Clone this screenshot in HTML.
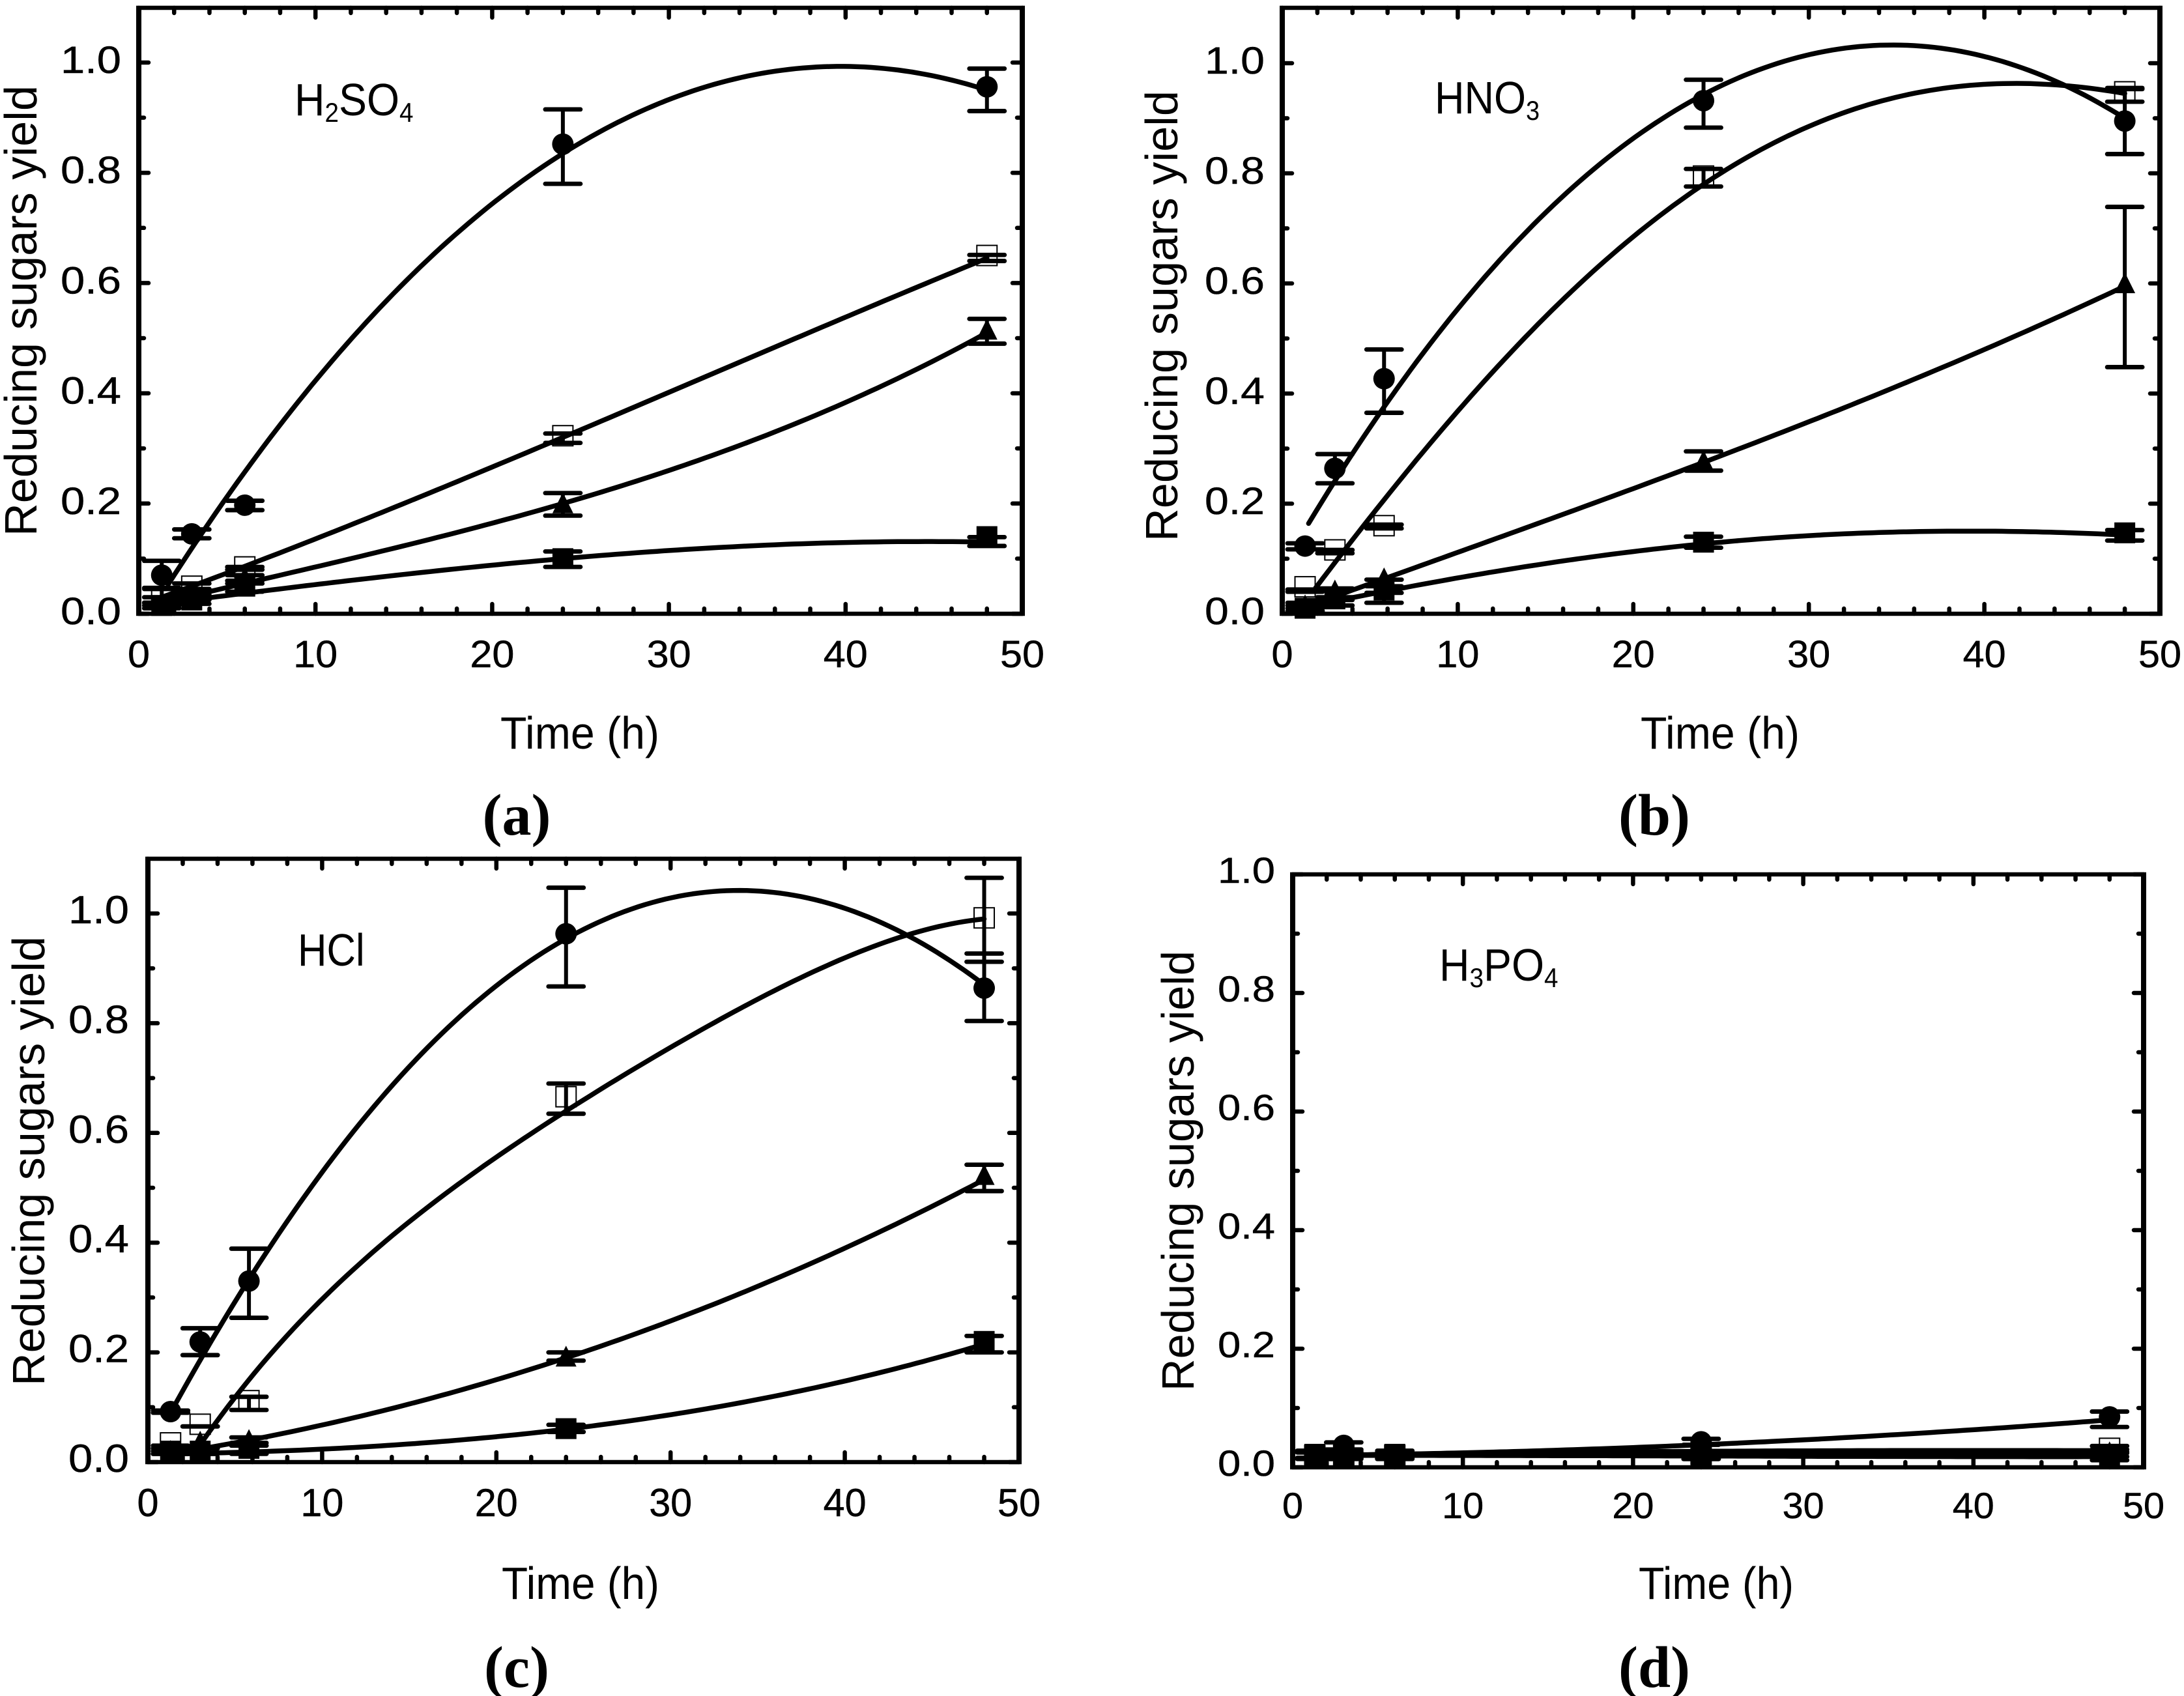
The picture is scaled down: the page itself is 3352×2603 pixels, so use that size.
<!DOCTYPE html>
<html lang="en">
<head>
<meta charset="utf-8">
<title>Reducing sugars yield over time for four acids</title>
<style>
html,body{margin:0;padding:0;background:#fff}
svg{display:block}
text{font-family:"Liberation Sans",Arial,sans-serif;fill:#000}
.tick{stroke:#000;stroke-width:.5px}
.axt{font-size:70px}
.ann{font-size:70px}
.sub{font-size:42px}
.cap{font-family:"Liberation Serif","Times New Roman",serif;font-weight:bold;font-size:90px}
</style>
</head>
<body>
<svg id="figure" xmlns="http://www.w3.org/2000/svg" width="3352" height="2603" viewBox="0 0 3352 2603">
<rect width="3352" height="2603" fill="#fff"/>

<g id="panel-a"></g>
<g id="panel-b"></g>
<g id="panel-c"></g>
<g id="panel-d"></g>

<text class="axt" text-anchor="middle" textLength="692" lengthAdjust="spacingAndGlyphs" transform="translate(56,477) rotate(-90)">Reducing sugars yield</text>
<text class="axt" text-anchor="middle" textLength="244" lengthAdjust="spacingAndGlyphs" x="890" y="1149">Time (h)</text>
<text class="ann" transform="translate(452,177) scale(.92,1)">H<tspan class="sub" dy="10">2</tspan><tspan dy="-10">SO</tspan><tspan class="sub" dy="10">4</tspan></text>
<text class="cap" text-anchor="middle" textLength="105" lengthAdjust="spacingAndGlyphs" x="793" y="1281">(a)</text>

<text class="axt" text-anchor="middle" textLength="692" lengthAdjust="spacingAndGlyphs" transform="translate(1807,485) rotate(-90)">Reducing sugars yield</text>
<text class="axt" text-anchor="middle" textLength="244" lengthAdjust="spacingAndGlyphs" x="2640" y="1149">Time (h)</text>
<text class="ann" transform="translate(2202,174) scale(.9,1)">HNO<tspan class="sub" dy="10">3</tspan></text>
<text class="cap" text-anchor="middle" textLength="110" lengthAdjust="spacingAndGlyphs" x="2539" y="1281">(b)</text>

<text class="axt" text-anchor="middle" textLength="690" lengthAdjust="spacingAndGlyphs" transform="translate(68,1782) rotate(-90)">Reducing sugars yield</text>
<text class="axt" text-anchor="middle" textLength="242" lengthAdjust="spacingAndGlyphs" x="891" y="2454">Time (h)</text>
<text class="ann" transform="translate(457,1482) scale(.88,1)">HCl</text>
<text class="cap" text-anchor="middle" textLength="100" lengthAdjust="spacingAndGlyphs" x="793" y="2589">(c)</text>

<text class="axt" text-anchor="middle" textLength="676" lengthAdjust="spacingAndGlyphs" transform="translate(1832,1797) rotate(-90)">Reducing sugars yield</text>
<text class="axt" text-anchor="middle" textLength="238" lengthAdjust="spacingAndGlyphs" x="2634" y="2454">Time (h)</text>
<text class="ann" transform="translate(2209,1505) scale(.92,1)">H<tspan class="sub" dy="10">3</tspan><tspan dy="-10">PO</tspan><tspan class="sub" dy="10">4</tspan></text>
<text class="cap" text-anchor="middle" textLength="110" lengthAdjust="spacingAndGlyphs" x="2539" y="2589">(d)</text>
</svg>

<script>
// ---------- tick labels ----------
const xTickLabels = ["0","10","20","30","40","50"];
const xTickValues = [0,10,20,30,40,50];
const xMinorValues = [2,4,6,8,12,14,16,18,22,24,26,28,32,34,36,38,42,44,46,48];
const yTickLabels = ["0.0","0.2","0.4","0.6","0.8","1.0"];
const yTickValues = [0,0.2,0.4,0.6,0.8,1.0];
const yMinorValues = [0.1,0.3,0.5,0.7,0.9];

// ---------- sampling times ----------
const timesA = [1.3,3,6,24,48];
const timesB = [1.3,3,5.8,24,48];
const timesC = [1.3,3,5.8,24,48];
const timesD = [1.3,3,6,24,48];

// ---------- panel a: H2SO4 ----------
const aCircle = [0.07,0.145,0.197,0.852,0.956];
const aCircleHigh = [0.096,0.153,0.205,0.915,0.989];
const aCircleLow = [0.047,0.137,0.188,0.78,0.912];
const aOpen = [0.03,0.05,0.085,0.323,0.65];
const aOpenHigh = [0.045,0.055,0.085,0.327,0.651];
const aOpenLow = [0.02,0.04,0.07,0.31,0.64];
const aTriangle = [0.02,0.035,0.065,0.2,0.515];
const aTriangleHigh = [0.03,0.045,0.08,0.219,0.535];
const aTriangleLow = [0.015,0.025,0.055,0.178,0.49];
const aSquare = [0.015,0.025,0.05,0.1,0.14];
const aSquareHigh = [0.02,0.035,0.06,0.113,0.139];
const aSquareLow = [0.01,0.018,0.04,0.085,0.123];
const aCircleFitT = [1.66,24,40,48];
const aCircleFit = [0.053,0.835,0.993,0.95];
const aOpenFitT = [1.3,6.4,24,48];
const aOpenFit = [0.03,0.091,0.32,0.645];
const aTriangleFitT = [1.3,7.2,24,48];
const aTriangleFit = [0.02,0.064,0.2,0.51];
const aSquareFitT = [1.3,7.2,24,48];
const aSquareFit = [0.018,0.042,0.1,0.13];

// ---------- panel b: HNO3 ----------
const bCircle = [0.123,0.264,0.427,0.932,0.895];
const bCircleHigh = [0.128,0.29,0.48,0.97,0.953];
const bCircleLow = [0.117,0.237,0.365,0.883,0.835];
const bOpen = [0.049,0.116,0.16,0.795,0.948];
const bOpenHigh = [0.044,0.116,0.162,0.808,0.955];
const bOpenLow = [0.04,0.11,0.155,0.776,0.93];
const bTriangle = [0.015,0.042,0.064,0.277,0.6];
const bTriangleHigh = [0.02,0.046,0.062,0.295,0.739];
const bTriangleLow = [0.01,0.025,0.05,0.26,0.448];
const bSquare = [0.01,0.027,0.043,0.13,0.147];
const bSquareHigh = [0.015,0.03,0.038,0.14,0.152];
const bSquareLow = [0.005,0.015,0.02,0.12,0.133];
const bCircleFitT = [1.5,24,35,48];
const bCircleFit = [0.164,0.943,1.033,0.9];
const bOpenFitT = [1.9,9.7,24,42.5,48];
const bOpenFit = [0.047,0.357,0.78,0.963,0.945];
const bTriangleFitT = [1.3,6.1,24,48];
const bTriangleFit = [0.012,0.067,0.275,0.595];
const bSquareFitT = [1.3,14.55,24,38,48];
const bSquareFit = [0.012,0.089,0.127,0.15,0.143];

// ---------- panel c: HCl ----------
const cCircle = [0.092,0.219,0.33,0.963,0.864];
const cCircleHigh = [0.094,0.244,0.389,1.047,0.927];
const cCircleLow = [0.09,0.195,0.263,0.867,0.804];
const cOpen = [0.035,0.069,0.112,0.666,0.992];
const cOpenHigh = [0.03,0.065,0.119,0.69,1.065];
const cOpenLow = [0.02,0.065,0.095,0.635,0.912];
const cTriangle = [0.02,0.037,0.04,0.192,0.523];
const cTriangleHigh = [0.025,0.025,0.045,0.2,0.542];
const cTriangleLow = [0.015,0.015,0.03,0.185,0.494];
const cSquare = [0.02,0.02,0.025,0.061,0.22];
const cSquareHigh = [0.025,0.025,0.035,0.068,0.23];
const cSquareLow = [0.015,0.015,0.015,0.055,0.2];
const cCircleFitT = [1.3,5.8,24,34,48];
const cCircleFit = [0.09,0.333,0.954,1.042,0.87];
const cOpenFitT = [2.7,5.8,24,36,48];
const cOpenFit = [0.018,0.15,0.64,0.86,0.99];
const cTriangleFitT = [1.3,5.8,24,48];
const cTriangleFit = [0.015,0.04,0.19,0.515];
const cSquareFitT = [1.3,12,24,48];
const cSquareFit = [0.015,0.027,0.06,0.215];

// ---------- panel d: H3PO4 ----------
const dCircle = [0.02,0.037,0.02,0.043,0.085];
const dCircleHigh = [0.025,0.042,0.025,0.048,0.094];
const dCircleLow = [0.015,0.03,0.015,0.038,0.068];
const dOpen = [0.02,0.02,0.02,0.022,0.032];
const dOpenHigh = [0.025,0.025,0.025,0.027,0.036];
const dOpenLow = [0.015,0.015,0.015,0.017,0.026];
const dTriangle = [0.02,0.02,0.02,0.02,0.025];
const dTriangleHigh = [0.026,0.026,0.026,0.026,0.03];
const dTriangleLow = [0.014,0.014,0.014,0.014,0.018];
const dSquare = [0.022,0.022,0.022,0.02,0.018];
const dSquareHigh = [0.028,0.028,0.028,0.026,0.024];
const dSquareLow = [0.016,0.016,0.016,0.014,0.012];
const dCircleFitT = [1.3,6,24,48];
const dCircleFit = [0.02,0.022,0.038,0.08];
const dOpenFitT = [1.3,6,24,48];
const dOpenFit = [0.02,0.022,0.027,0.028];
const dTriangleFitT = [1.3,6,24,48];
const dTriangleFit = [0.02,0.021,0.024,0.025];
const dSquareFitT = [1.3,6,24,48];
const dSquareFit = [0.02,0.02,0.019,0.018];

const SVGNS = "http://www.w3.org/2000/svg";

function make(parent, tag, attrs){
  const node = document.createElementNS(SVGNS, tag);
  for (const k in attrs) node.setAttribute(k, attrs[k]);
  parent.appendChild(node);
  return node;
}

function fitValue(ts, vs, t){
  // smooth curve through the knots
  let sum = 0;
  for (let i = 0; i < ts.length; i++){
    let w = 1;
    for (let j = 0; j < ts.length; j++){
      if (j !== i) w *= (t - ts[j]) / (ts[i] - ts[j]);
    }
    sum += w * vs[i];
  }
  return sum;
}

function curvePath(ts, vs, sx, sy){
  const start = ts[0], end = ts[ts.length-1];
  const steps = 120;
  let d = "";
  for (let i = 0; i <= steps; i++){
    const t = start + (end-start)*i/steps;
    d += (i === 0 ? "M" : "L") + sx(t).toFixed(1) + " " + sy(fitValue(ts, vs, t)).toFixed(1);
  }
  return d;
}

function drawAxes(g, p, sx, sy){
  const frameH = make(g, "path", {d:"M"+(p.left-4)+" "+p.top+"H"+(p.right+4)+"M"+(p.left-4)+" "+p.bottom+"H"+(p.right+4), fill:"none", stroke:"#000", "stroke-width":6.5});
  
  
  const frameV = make(g, "path", {d:"M"+p.left+" "+(p.top-3)+"V"+(p.bottom+3)+"M"+p.right+" "+(p.top-3)+"V"+(p.bottom+3), fill:"none", stroke:"#000", "stroke-width":8});
  
  
  const drawX = function(v, len){
    [[p.bottom,-1],[p.top,1]].forEach(function(e){
      const t = make(g, "line", {x1:sx(v), x2:sx(v), y1:e[0], y2:e[0]+e[1]*len, stroke:"#000", "stroke-width":6.5, "stroke-linecap":"round"});
      
      
    });
  };
  const drawY = function(v, len){
    [[p.left,1],[p.right,-1]].forEach(function(e){
      const t = make(g, "line", {x1:e[0], x2:e[0]+e[1]*len, y1:sy(v), y2:sy(v), stroke:"#000", "stroke-width":6.5, "stroke-linecap":"round"});
      
      
    });
  };
  xTickValues.forEach(function(v){ drawX(v, 15); });
  xMinorValues.forEach(function(v){ drawX(v, 8); });
  yTickValues.forEach(function(v){ drawY(v, 15); });
  yMinorValues.forEach(function(v){ drawY(v, 8); });
  xTickLabels.forEach(function(s, i){
    const t = make(g, "text", {class:"tick", "font-size":p.fontPx, x:sx(xTickValues[i]), y:p.xLabelY, "text-anchor":"middle", textLength:(s.length*p.digitW), lengthAdjust:"spacingAndGlyphs"});
    
    
    t.textContent = s;
  });
  yTickLabels.forEach(function(s, i){
    const t = make(g, "text", {class:"tick", "font-size":p.fontPx, x:p.yLabelX, y:sy(yTickValues[i])+p.yLabelDy, "text-anchor":"end", textLength:p.yLabelW, lengthAdjust:"spacingAndGlyphs"});
    
    
    t.textContent = s;
  });
}

function drawErrors(g, times, high, low, sx, sy){
  times.forEach(function(t, i){
    const v = make(g, "line", {x1:sx(t), x2:sx(t), y1:sy(high[i]), y2:sy(low[i]), stroke:"#000", "stroke-width":6});
    
    
    [high[i], low[i]].forEach(function(e){
      const c = make(g, "line", {x1:sx(t)-27, x2:sx(t)+27, y1:sy(e), y2:sy(e), stroke:"#000", "stroke-width":6.8, "stroke-linecap":"round"});
      
      
    });
  });
}

function drawFit(g, ts, vs, sx, sy){
  const l = make(g, "path", {d:curvePath(ts, vs, sx, sy), fill:"none", stroke:"#000", "stroke-width":7.5, "stroke-linecap":"round", "stroke-linejoin":"round"});
  
  
}

function drawMarkers(g, times, vals, kind, sx, sy){
  times.forEach(function(t, i){
    const x = sx(t), y = sy(vals[i]);
    let m;
    if (kind === "circle") m = make(g, "ellipse", {cx:x, cy:y, rx:16.5, ry:16.5, fill:"#000"});
    else if (kind === "open") m = make(g, "rect", {x:x-15.5, y:y-15.5, width:31, height:31, fill:"none", stroke:"#000", "stroke-width":2});
    else if (kind === "square") m = make(g, "rect", {x:x-16, y:y-16, width:32, height:32, fill:"#000"});
    else m = make(g, "polygon", {points:(x-16)+","+(y+15)+" "+(x+16)+","+(y+15)+" "+x+","+(y-17), fill:"#000"});
    
    
  });
}

function drawPanel(id, p, times, series){
  const g = document.getElementById(id);
  const sx = function(t){ return p.left + (p.right-p.left)*t/50; };
  const sy = function(v){ return p.bottom - (p.bottom-p.y1)*v; };
  drawAxes(g, p, sx, sy);
  series.forEach(function(s){
    if (s.kind === "open") drawMarkers(g, times, s.vals, s.kind, sx, sy);
  });
  series.forEach(function(s){
    drawFit(g, s.fitT, s.fit, sx, sy);
    drawErrors(g, times, s.high, s.low, sx, sy);
  });
  series.forEach(function(s){
    if (s.kind !== "open") drawMarkers(g, times, s.vals, s.kind, sx, sy);
  });
}

drawPanel("panel-a", {left:213,right:1569,top:12,bottom:942,y1:96,xLabelY:1024,yLabelX:186,yLabelDy:16,yLabelW:93,fontPx:58,digitW:34}, timesA, [
  {kind:"open",vals:aOpen,high:aOpenHigh,low:aOpenLow,fitT:aOpenFitT,fit:aOpenFit},
  {kind:"circle",vals:aCircle,high:aCircleHigh,low:aCircleLow,fitT:aCircleFitT,fit:aCircleFit},
  {kind:"triangle",vals:aTriangle,high:aTriangleHigh,low:aTriangleLow,fitT:aTriangleFitT,fit:aTriangleFit},
  {kind:"square",vals:aSquare,high:aSquareHigh,low:aSquareLow,fitT:aSquareFitT,fit:aSquareFit}
]);
drawPanel("panel-b", {left:1968,right:3315,top:12,bottom:942,y1:97,xLabelY:1024,yLabelX:1941,yLabelDy:16,yLabelW:92,fontPx:58,digitW:33}, timesB, [
  {kind:"open",vals:bOpen,high:bOpenHigh,low:bOpenLow,fitT:bOpenFitT,fit:bOpenFit},
  {kind:"circle",vals:bCircle,high:bCircleHigh,low:bCircleLow,fitT:bCircleFitT,fit:bCircleFit},
  {kind:"triangle",vals:bTriangle,high:bTriangleHigh,low:bTriangleLow,fitT:bTriangleFitT,fit:bTriangleFit},
  {kind:"square",vals:bSquare,high:bSquareHigh,low:bSquareLow,fitT:bSquareFitT,fit:bSquareFit}
]);
drawPanel("panel-c", {left:227,right:1564,top:1318,bottom:2244,y1:1402,xLabelY:2327,yLabelX:198,yLabelDy:15,yLabelW:93,fontPx:60,digitW:33}, timesC, [
  {kind:"open",vals:cOpen,high:cOpenHigh,low:cOpenLow,fitT:cOpenFitT,fit:cOpenFit},
  {kind:"circle",vals:cCircle,high:cCircleHigh,low:cCircleLow,fitT:cCircleFitT,fit:cCircleFit},
  {kind:"triangle",vals:cTriangle,high:cTriangleHigh,low:cTriangleLow,fitT:cTriangleFitT,fit:cTriangleFit},
  {kind:"square",vals:cSquare,high:cSquareHigh,low:cSquareLow,fitT:cSquareFitT,fit:cSquareFit}
]);
drawPanel("panel-d", {left:1984,right:3290,top:1342,bottom:2252,y1:1342,xLabelY:2330,yLabelX:1957,yLabelDy:13,yLabelW:88,fontPx:56,digitW:32}, timesD, [
  {kind:"open",vals:dOpen,high:dOpenHigh,low:dOpenLow,fitT:dOpenFitT,fit:dOpenFit},
  {kind:"circle",vals:dCircle,high:dCircleHigh,low:dCircleLow,fitT:dCircleFitT,fit:dCircleFit},
  {kind:"triangle",vals:dTriangle,high:dTriangleHigh,low:dTriangleLow,fitT:dTriangleFitT,fit:dTriangleFit},
  {kind:"square",vals:dSquare,high:dSquareHigh,low:dSquareLow,fitT:dSquareFitT,fit:dSquareFit}
]);
</script>
</body>
</html>
